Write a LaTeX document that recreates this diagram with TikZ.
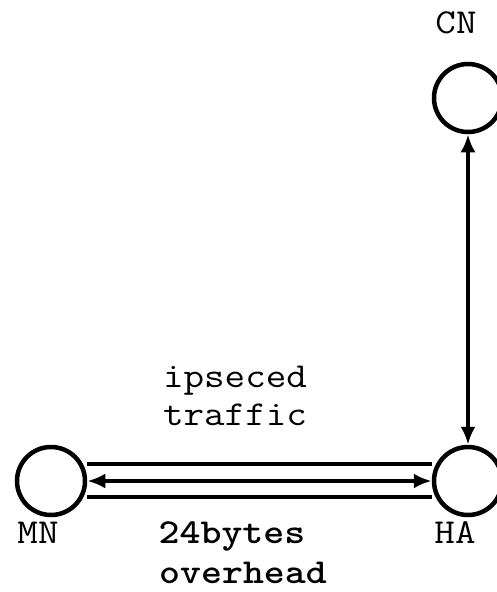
\documentclass[tikz,border=0pt]{standalone}
\usepackage{fontspec}
\usetikzlibrary{arrows.meta}
\begin{document}
\begin{tikzpicture}[x=1pt,y=-1pt,
  host/.style={circle,draw,line width=4.5pt,minimum size=68pt,inner sep=0pt},
  tag/.style={anchor=base,inner sep=0pt,font=\ttfamily\fontsize{35}{35}\selectfont,xscale=1.14},
  boldtag/.style={tag,font=\ttfamily\bfseries\fontsize{35}{35}\selectfont},
  link/.style={line width=4.5pt},
  flow/.style={line width=4.5pt,{Latex[length=18pt,width=15pt]}-{Latex[length=18pt,width=15pt]}}]
\useasboundingbox (0,0) rectangle (496,592);
\fill[white] (0,0) rectangle (496,592);
% hosts
\node[host] (mn) at (51,481) {};
\node[host] (ha) at (468,481) {};
\node[host] (cn) at (468,98) {};
% host names
\node[tag] (mnlabel) at (38,543) {MN};
\node[tag] (halabel) at (455,543) {HA};
\node[tag] (cnlabel) at (456,33) {CN};
% tunnel between MN and HA
\draw[link] ([yshift=-16pt]mn.east) -- ([yshift=-16pt]ha.west);
\draw[link] ([yshift=17pt]mn.east) -- ([yshift=17pt]ha.west);
\draw[flow] (mn) -- (ha);
% HA to CN
\draw[flow] (cn) -- (ha);
% captions
\node[tag] (cap1) at (235,387) {ipseced};
\node[tag] (cap2) at (235,425) {traffic};
\node[boldtag] (ovh1) at (232,543) {24bytes};
\node[boldtag] (ovh2) at (243,583) {overhead};
\end{tikzpicture}
\end{document}
